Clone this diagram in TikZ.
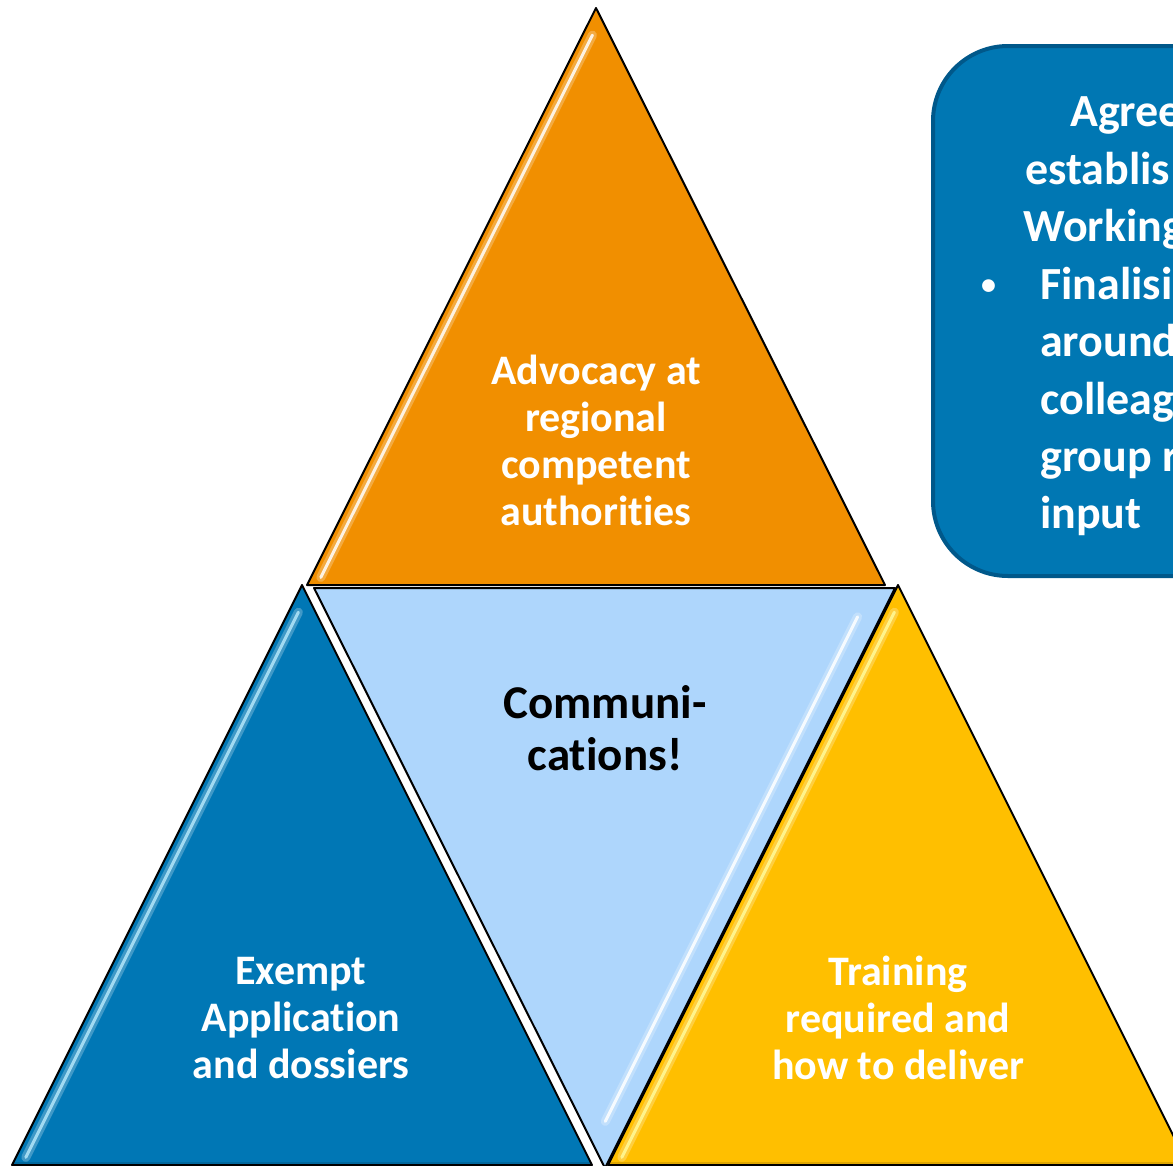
\documentclass[tikz,border=0pt]{standalone}
\usepackage{fontspec}
\setmainfont{Carlito}[Ligatures=NoCommon]
\usepackage{tikz}
\usetikzlibrary{calc}
\definecolor{advorange}{RGB}{241,143,0}
\definecolor{commblue}{RGB}{174,214,252}
\definecolor{exeblue}{RGB}{0,119,181}
\definecolor{trnyellow}{RGB}{255,191,0}
\definecolor{boxblue}{RGB}{0,119,179}
\definecolor{boxedge}{RGB}{0,88,138}
\tikzset{
  tri/.style   ={draw=black, line width=2pt, line join=round},
  gloss/.style ={white, line width=3pt, opacity=0.85, line cap=round},
  glow/.style  ={white, line width=9pt, opacity=0.25, line cap=round},
  lbl/.style   ={align=center, text=white, font=\fontsize{42}{47}\selectfont\bfseries},
  boxline/.style ={anchor=base west, text=white, inner sep=0pt,
                   font=\fontsize{46}{57}\selectfont\bfseries},
}

\begin{document}
\begin{tikzpicture}[x=1pt, y=-1pt]

  \clip (0,0) rectangle (1173,1165);
  \fill[white] (0,0) rectangle (1173,1165);

  % -- corner points ---------------------------------------------------
  \coordinate (oT) at (596,8);   \coordinate (oL) at (307,585);  \coordinate (oR) at (885,585);
  \coordinate (bT) at (302,585); \coordinate (bL) at (12,1165);  \coordinate (bR) at (592,1165);
  \coordinate (yT) at (898,585); \coordinate (yL) at (608,1165); \coordinate (yR) at (1188,1165);
  \coordinate (mL) at (314,588); \coordinate (mR) at (895,588);  \coordinate (mB) at (605,1168);

  % -- triangles ---------------------------------------------------------
  \filldraw[tri, fill=advorange] (oT) -- (oL) -- (oR) -- cycle;
  \filldraw[tri, fill=commblue]  (mL) -- (mR) -- (mB) -- cycle;
  \filldraw[tri, fill=exeblue]   (bT) -- (bL) -- (bR) -- cycle;
  \filldraw[tri, fill=trnyellow] (yT) -- (yL) -- (yR) -- cycle;

  % -- glossy edges ------------------------------------------------------
  \draw[glow]  ($(oT)!0.04!(oL)+(8,4)$) -- ($(oT)!0.98!(oL)+(8,4)$);
  \draw[gloss] ($(oT)!0.04!(oL)+(8,4)$) -- ($(oT)!0.98!(oL)+(8,4)$);
  \draw[glow]  ($(bT)!0.04!(bL)+(8,4)$) -- ($(bT)!0.98!(bL)+(8,4)$);
  \draw[gloss, cyan!30] ($(bT)!0.04!(bL)+(8,4)$) -- ($(bT)!0.98!(bL)+(8,4)$);
  \draw[glow]  ($(yT)!0.04!(yL)+(8,4)$) -- ($(yT)!0.98!(yL)+(8,4)$);
  \draw[gloss, yellow!40] ($(yT)!0.04!(yL)+(8,4)$) -- ($(yT)!0.98!(yL)+(8,4)$);
  \draw[glow]  ($(mR)!0.06!(mB)+(-20,-6)$) -- ($(mR)!0.93!(mB)+(-20,-6)$);
  \draw[gloss] ($(mR)!0.06!(mB)+(-20,-6)$) -- ($(mR)!0.93!(mB)+(-20,-6)$);
  % soft shade along the bottom
  \draw[black, opacity=0.12, line width=6pt] (bL) -- (bR) (yL) -- (yR);

  % -- labels ------------------------------------------------------------
  \node[lbl] (adv)  at (596,440)  {Advocacy at\\regional\\competent\\authorities};
  \node[lbl, text=black, font=\fontsize{47}{52}\selectfont\bfseries]
             (comm) at (605,728)  {Communi-\\cations!};
  \node[lbl] (exe)  at (301,1018) {Exempt\\Application\\and dossiers};
  \node[lbl] (trn)  at (898,1018) {Training\\required and\\how to deliver};

  % -- note box ----------------------------------------------------------
  \filldraw[fill=boxblue, draw=boxedge, line width=4pt, rounded corners=75pt]
    (933,46) rectangle (1260,576);
  \node[boxline] (bx1) at (1070,126) {Agree};
  \node[boxline] (bx2) at (1025,184) {establis};
  \node[boxline] (bx3) at (1023,241) {Working};
  \node[boxline, font=\fontsize{30}{57}\selectfont\bfseries] (bul) at (981,294) {•};
  \node[boxline] (bx4) at (1040,299) {Finalisi};
  \node[boxline] (bx5) at (1040,356) {around};
  \node[boxline] (bx6) at (1040,414) {colleag};
  \node[boxline] (bx7) at (1040,471) {group r};
  \node[boxline] (bx8) at (1040,528) {input};

\end{tikzpicture}
\end{document}
